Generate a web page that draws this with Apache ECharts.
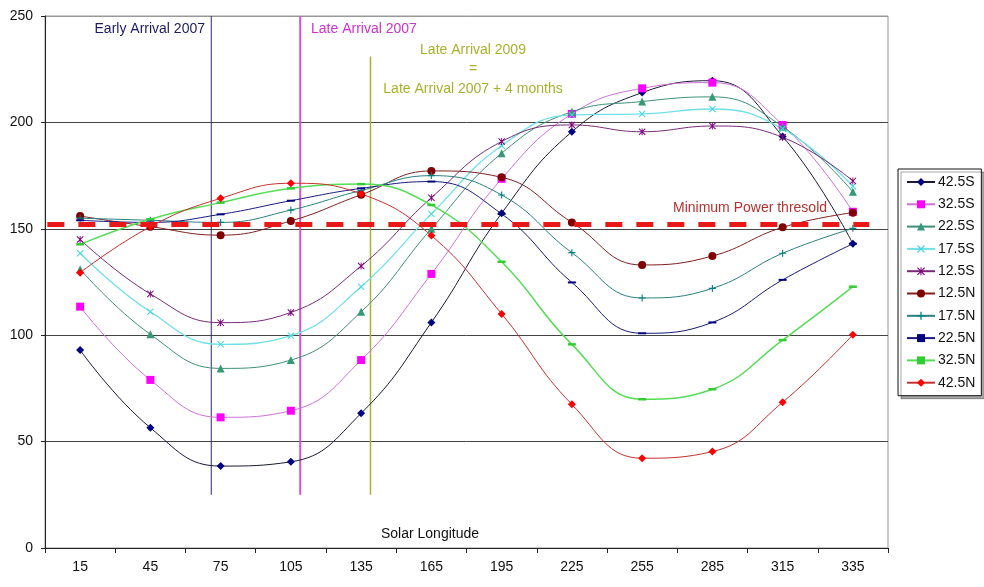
<!DOCTYPE html>
<html>
<head>
<meta charset="utf-8">
<script src="https://cdn.jsdelivr.net/npm/echarts@6/dist/echarts.min.js"></script>
<style>
html,body{margin:0;padding:0;background:#fff;}
#chart{width:984px;height:587px;}
</style>
</head>
<body>
<div id="chart"></div>
<script>
// ---- data ----
var categories = ['15','45','75','105','135','165','195','225','255','285','315','335'];
var yTicks = [0, 50, 100, 150, 200, 250];

var s42_5S = [93, 56.5, 38.5, 40.5, 63.3, 106, 157.3, 195.6, 214, 219.6, 193.4, 143];
var s32_5S = [113.4, 79, 61.4, 64.5, 88.3, 128.8, 173.5, 204, 216, 218.7, 198.8, 158];
var s22_5S = [131, 100.4, 84.4, 88.3, 111, 150, 185.5, 205, 209.8, 212, 198, 167.4];
var s17_5S = [138.5, 111, 95.7, 99.8, 122.8, 157, 189, 203.5, 204, 206.3, 197, 170];
var s12_5S = [145, 119.4, 105.9, 110.7, 132.5, 164.6, 191, 198.8, 195.6, 198.3, 193, 172.5];
var s12_5N = [156, 151, 147, 153.7, 166, 177.2, 174.2, 153, 133, 137.2, 150.7, 157.6];
var s17_5N = [155, 154, 153, 158.8, 168, 175, 165.9, 138.8, 117.5, 122, 138.5, 150.2];
var s22_5N = [154, 153, 156.8, 163.2, 169, 172.2, 157, 124.8, 100.9, 106, 126, 143];
var s32_5N = [142.7, 154.5, 162.3, 169, 171, 161.2, 134.5, 95.7, 69.9, 74.6, 97.7, 122.8];
var s42_5N = [129.4, 151, 164.3, 171.4, 166.4, 146.8, 110, 67.5, 42.2, 45.3, 68.5, 100.2];

// annotation values (x in solar longitude degrees, y in chart units)
var threshold = 152;
var earlyArrival2007 = 71;
var lateArrival2007 = 109;
var lateArrival2009 = 139;
var markerLineBottom = 25;
var markerLineTop = 250;
var late2009Top = 231;

// ---- chart ----
var FONT = '"Liberation Sans", Arial, sans-serif';
var plusPath = 'path://M4.2,0h1.6v4.2h4.2v1.6h-4.2v4.2h-1.6v-4.2h-4.2v-1.6h4.2z';
var xPath = 'path://M1,0L5,4L9,0L10,1L6,5L10,9L9,10L5,6L1,10L0,9L4,5L0,1Z';
var starPath = 'path://M4.4,0h1.2v10h-1.4z M1,0L5,4L9,0L10,1L6,5L10,9L9,10L5,6L1,10L0,9L4,5L0,1Z';

function mk(name, data, lineColor, symColor, symbol, size, lw) {
  return {
    name: name, type: 'line', data: data, smooth: 0.45,
    symbol: symbol, symbolSize: size, showSymbol: true,
    lineStyle: {color: lineColor, width: lw || 1},
    itemStyle: {color: symColor, borderWidth: 0},
    emphasis: {disabled: true},
    z: 3
  };
}

var series = [
  mk('42.5S', s42_5S, '#1a1a3a', '#000080', 'diamond', 8),
  mk('32.5S', s32_5S, '#d070d8', '#ff00ff', 'rect', 8),
  mk('22.5S', s22_5S, '#3f8f78', '#339977', 'triangle', 8),
  mk('17.5S', s17_5S, '#70e0e8', '#40d8e0', xPath, 7, 1.3),
  mk('12.5S', s12_5S, '#7a2a7a', '#800080', starPath, 7),
  mk('12.5N', s12_5N, '#802020', '#800000', 'circle', 8),
  mk('17.5N', s17_5N, '#2a8080', '#008080', plusPath, 7),
  mk('22.5N', s22_5N, '#1a1a80', '#000080', 'rect', [8, 2]),
  mk('32.5N', s32_5N, '#55dd55', '#33cc33', 'rect', [8, 2.5], 1.5),
  mk('42.5N', s42_5N, '#c83030', '#ff0000', 'diamond', 8)
];

function vline(x, y0, y1, color, w) {
  return {
    type: 'line', xAxisIndex: 1, yAxisIndex: 0, data: [[x, y0], [x, y1]],
    symbol: 'none', silent: true, animation: false,
    lineStyle: {color: color, width: w}, z: 2
  };
}
series.push(vline(earlyArrival2007, markerLineBottom, markerLineTop, '#2a2a70', 1));
series.push(vline(lateArrival2007, markerLineBottom, markerLineTop, '#cc55cc', 2));
series.push(vline(lateArrival2009, markerLineBottom, late2009Top, '#a8b430', 1.5));
series.push({
  type: 'line', xAxisIndex: 1, yAxisIndex: 0, data: [[1, threshold], [352, threshold]],
  symbol: 'none', silent: true, animation: false,
  lineStyle: {color: '#e81818', width: 5, type: [17, 14]}, z: 4
});

var chart = echarts.init(document.getElementById('chart'), null, {renderer: 'canvas'});
chart.setOption({
  animation: false,
  backgroundColor: '#ffffff',
  textStyle: {fontFamily: FONT},
  grid: {left: 45, right: 96, top: 16, bottom: 39, show: true, borderColor: '#999', borderWidth: 1, backgroundColor: 'transparent'},
  xAxis: [{
    type: 'category', data: categories, boundaryGap: true,
    axisLine: {lineStyle: {color: '#222', width: 1}},
    axisTick: {show: true, alignWithLabel: false, length: 5, lineStyle: {color: '#222'}},
    axisLabel: {color: '#111', fontSize: 14, margin: 12, fontFamily: FONT, interval: 0},
    splitLine: {show: false}
  }, {
    type: 'value', min: 0, max: 360, show: false
  }],
  yAxis: [{
    type: 'value', min: 0, max: 250, interval: 50,
    axisLine: {show: true, lineStyle: {color: '#222', width: 1}},
    axisTick: {show: true, length: 4, lineStyle: {color: '#222'}},
    axisLabel: {color: '#111', fontSize: 14, margin: 12, fontFamily: FONT,
      formatter: function (v) { return yTicks.indexOf(v) >= 0 ? String(v) : ''; }},
    splitLine: {show: true, lineStyle: {color: ['#444', '#444', '#444', '#444', '#444', '#999'], width: 1}}
  }],
  legend: {
    data: ['42.5S','32.5S','22.5S','17.5S','12.5S','12.5N','17.5N','22.5N','32.5N','42.5N'],
    orient: 'vertical', left: 898, top: 169,
    itemWidth: 28, itemHeight: 10, itemGap: 8.3,
    padding: [6, 6, 6, 8],
    backgroundColor: '#fff', borderColor: '#111', borderWidth: 1,
    shadowColor: 'rgba(0,0,0,0.35)', shadowOffsetX: 3, shadowOffsetY: 3, shadowBlur: 0,
    textStyle: {color: '#111', fontSize: 14, fontFamily: FONT, padding: [0, 0, 0, -2]},
    selectedMode: false
  },
  graphic: [
    {type: 'text', x: 205, y: 29, style: {text: 'Early Arrival 2007', fill: '#1c1c64', font: '14px ' + FONT, textAlign: 'right', textVerticalAlign: 'middle'}},
    {type: 'text', x: 311, y: 29, style: {text: 'Late Arrival 2007', fill: '#cc33cc', font: '14px ' + FONT, textAlign: 'left', textVerticalAlign: 'middle'}},
    {type: 'text', x: 473, y: 50, style: {text: 'Late Arrival 2009', fill: '#a6b22e', font: '14px ' + FONT, textAlign: 'center', textVerticalAlign: 'middle'}},
    {type: 'text', x: 473, y: 69, style: {text: '=', fill: '#a6b22e', font: '14px ' + FONT, textAlign: 'center', textVerticalAlign: 'middle'}},
    {type: 'text', x: 473, y: 89, style: {text: 'Late Arrival 2007 + 4 months', fill: '#a6b22e', font: '14px ' + FONT, textAlign: 'center', textVerticalAlign: 'middle'}},
    {type: 'text', x: 750, y: 208, z: 10, style: {text: 'Minimum Power thresold', fill: '#b8312f', font: '14px ' + FONT, textAlign: 'center', textVerticalAlign: 'middle'}},
    {type: 'text', x: 430, y: 534, style: {text: 'Solar Longitude', fill: '#111', font: '14px ' + FONT, textAlign: 'center', textVerticalAlign: 'middle'}}
  ],
  series: series
});
</script>
</body>
</html>
